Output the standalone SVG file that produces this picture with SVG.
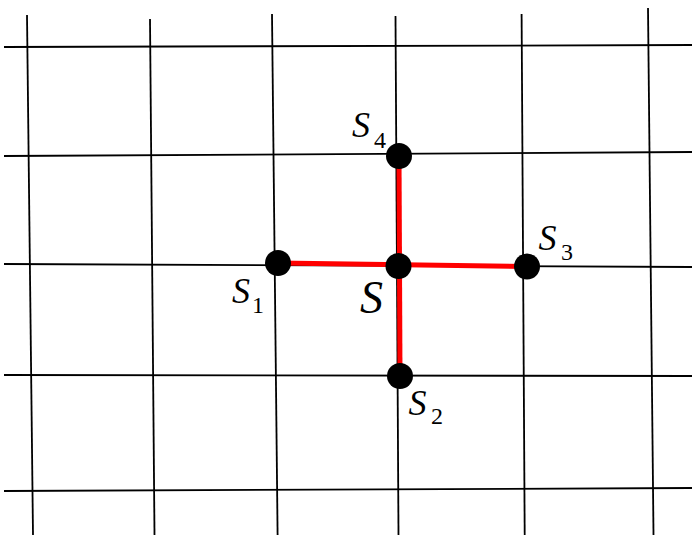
<svg xmlns="http://www.w3.org/2000/svg" width="692" height="538" viewBox="0 0 692 538">
<style>
.grid line{stroke:#000;stroke-width:1.8;fill:none}
.red line{stroke:#ff0000;stroke-width:5;stroke-linecap:butt}
.dot{fill:#000}
.lbl{font-family:'Liberation Serif','Times New Roman',serif;font-style:italic;fill:#000}
.sub{font-family:'Liberation Serif','Times New Roman',serif;font-style:normal;fill:#000}
</style>
<rect width="692" height="538" fill="#fff"/>
<g id="grid" class="grid">
<line x1="27" y1="15" x2="33" y2="535"/>
<line x1="150" y1="19" x2="154.5" y2="535"/>
<line x1="272" y1="14" x2="277.6" y2="535"/>
<line x1="395.5" y1="16" x2="398.5" y2="535"/>
<line x1="521.6" y1="14" x2="524.7" y2="535"/>
<line x1="648" y1="8" x2="653.5" y2="535"/>
<line x1="4" y1="47" x2="692" y2="45"/>
<line x1="4" y1="156" x2="692" y2="152"/>
<line x1="4" y1="264" x2="692" y2="267"/>
<line x1="4" y1="375" x2="692" y2="376"/>
<line x1="4" y1="491" x2="692" y2="488"/>
</g>
<g id="connectors" class="red">
<line x1="278" y1="263" x2="527" y2="266.5"/>
<line x1="399" y1="156" x2="400" y2="376"/>
</g>
<g id="S">
<circle class="dot" cx="398.5" cy="266" r="13"/>
<text class="lbl" x="360" y="313" font-size="46">S</text>
</g>
<g id="S1">
<circle class="dot" cx="278" cy="263" r="13"/>
<text class="lbl" x="232" y="303" font-size="36">S</text>
<text class="sub" x="252" y="312.5" font-size="24">1</text>
</g>
<g id="S2">
<circle class="dot" cx="400" cy="376" r="13"/>
<text class="lbl" x="408.5" y="414.5" font-size="36">S</text>
<text class="sub" x="431" y="424" font-size="24">2</text>
</g>
<g id="S3">
<circle class="dot" cx="527" cy="266.5" r="13"/>
<text class="lbl" x="538.5" y="250" font-size="36">S</text>
<text class="sub" x="561" y="260" font-size="24">3</text>
</g>
<g id="S4">
<circle class="dot" cx="399" cy="156" r="13"/>
<text class="lbl" x="352" y="137" font-size="36">S</text>
<text class="sub" x="374" y="148" font-size="24">4</text>
</g>
</svg>
